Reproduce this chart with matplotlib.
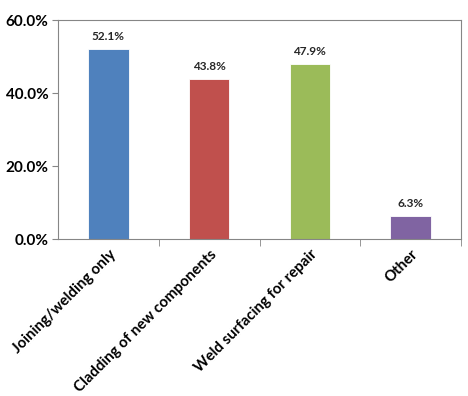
import matplotlib.pyplot as plt
from matplotlib.ticker import FixedLocator

categories = ['Joining/welding only', 'Cladding of new components',
              'Weld surfacing for repair', 'Other']
values = [52.1, 43.8, 47.9, 6.3]
colors = ['#4F81BD', '#C0504D', '#9BBB59', '#8064A2']
yticks = [0, 20, 40, 60]

plt.rcParams['font.family'] = ['Lato', 'DejaVu Sans']

fig = plt.figure(figsize=(4.68, 3.96), dpi=100)
ax = fig.add_axes([0.124, 0.396, 0.861, 0.553])

x = range(len(categories))
bars = ax.bar(x, values, width=0.4, color=colors, edgecolor='white', linewidth=0.6)

for xi, v in zip(x, values):
    ax.text(xi, v + 2, f'{v:.1f}%', ha='center', va='bottom',
            fontsize=8.5, fontweight='bold', color='#262626')

ax.set_xlim(-0.5, len(categories) - 0.5)
ax.set_ylim(0, 60)
ax.set_yticks(yticks)
ax.set_yticklabels([f'{t:.1f}%' for t in yticks], fontsize=11, fontweight='bold')

ax.set_xticks(list(x))
ax.set_xticklabels(categories, rotation=45, ha='right', rotation_mode='anchor',
                   fontsize=10.8, fontweight='bold')
ax.tick_params(axis='x', which='major', length=0, pad=6)
ax.xaxis.set_minor_locator(FixedLocator([0.5, 1.5, 2.5, 3.5]))
ax.tick_params(axis='x', which='minor', length=5, color='#868686', direction='out')
ax.tick_params(axis='y', length=4, color='#868686', direction='out', pad=3)

for s in ax.spines.values():
    s.set_color('#868686')
    s.set_linewidth(0.8)

fig.savefig('out.png', dpi=100)
